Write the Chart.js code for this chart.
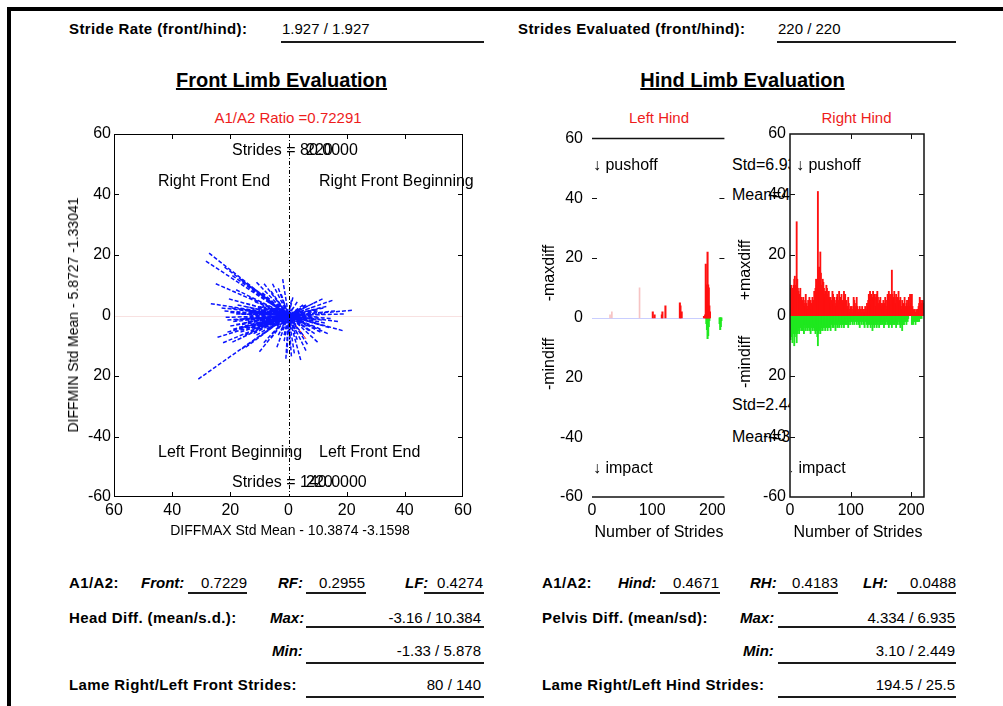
<!DOCTYPE html>
<html>
<head>
<meta charset="utf-8">
<title>Limb Evaluation</title>
<script src="https://cdn.jsdelivr.net/npm/chart.js@4.4.1/dist/chart.umd.min.js"></script>
<style>
  html, body { margin: 0; padding: 0; background: #fff; }
  #page { position: relative; width: 1003px; height: 706px; overflow: hidden; background: #fff;
          font-family: 'Liberation Sans', Arial, Helvetica, sans-serif; color: #000; }
  .t { position: absolute; white-space: nowrap; line-height: 1; }
  .lbl { font-size: 15px; font-weight: bold; letter-spacing: 0.4px; }
  .val { font-size: 15px; }
  .bi { font-size: 15px; font-weight: bold; font-style: italic; }
  .ttl { font-size: 20px; font-weight: bold; text-decoration: underline; text-decoration-thickness: 1.5px; }
  .red { color: #ee1c1c; font-size: 15px; }
  .p16 { font-size: 16px; }
  .p14 { font-size: 14px; }
  .ctr { transform: translateX(-50%); }
  .rot { transform: translate(-50%, -50%) rotate(-90deg); }
  .ul { position: absolute; height: 2px; background: #1a1a1a; }
  .bar { position: absolute; background: #000; }
  .clip { position: absolute; overflow: hidden; }
  canvas { position: absolute; }
</style>
</head>
<body>
<div id="page">
  <!-- page frame -->
  <div class="bar" style="left:7px;top:7px;width:996px;height:4px;"></div>
  <div class="bar" style="left:7px;top:7px;width:4px;height:699px;"></div>

  <!-- header row -->
  <div class="t lbl" style="left:69px;top:21px;">Stride Rate (front/hind):</div>
  <div class="t val" style="left:282px;top:21px;">1.927 / 1.927</div>
  <div class="ul" style="left:281px;top:41px;width:203px;"></div>
  <div class="t lbl" style="left:518px;top:21px;">Strides Evaluated (front/hind):</div>
  <div class="t val" style="left:778px;top:21px;">220 / 220</div>
  <div class="ul" style="left:777px;top:41px;width:179px;"></div>

  <div class="t ttl ctr" style="left:281.5px;top:69.5px;">Front Limb Evaluation</div>
  <div class="t ttl ctr" style="left:742.5px;top:69.5px;">Hind Limb Evaluation</div>

  <div class="t red ctr" style="left:288px;top:109.5px;">A1/A2 Ratio =0.72291</div>
  <div class="t red ctr" style="left:659px;top:109.5px;">Left Hind</div>
  <div class="t red ctr" style="left:856.5px;top:109.5px;">Right Hind</div>

  <!-- chart canvases -->
  <canvas id="front" width="420" height="430" style="left:60px;top:120px;width:420px;height:430px;"></canvas>
  <canvas id="leftHind" width="200" height="430" style="left:530px;top:120px;width:200px;height:430px;"></canvas>

  <!-- statistics printed beside the left hind plot, cut off by the right hind axes -->
  <div class="clip" style="left:731px;top:150px;width:59px;height:300px;">
    <div class="t p16" style="left:1px;top:7px;">Std=6.935</div>
    <div class="t p16" style="left:1px;top:37px;">Mean=4.334</div>
    <div class="t p16" style="left:1px;top:247px;">Std=2.449</div>
    <div class="t p16" style="left:1px;top:279px;">Mean=3.10</div>
  </div>

  <canvas id="rightHind" width="200" height="430" style="left:730px;top:120px;width:200px;height:430px;"></canvas>

  <!-- front plot annotations -->
  <div class="t p16" style="left:232px;top:142px;">Strides = 80.0000</div>
  <div class="t p16" style="left:306px;top:142px;">220</div>
  <div class="t p16" style="left:158px;top:173px;">Right Front End</div>
  <div class="t p16" style="left:319px;top:173px;">Right Front Beginning</div>
  <div class="t p16" style="left:158px;top:444px;">Left Front Beginning</div>
  <div class="t p16" style="left:319px;top:444px;">Left Front End</div>
  <div class="t p16" style="left:232px;top:474px;">Strides = 140.0000</div>
  <div class="t p16" style="left:306px;top:474px;">220</div>
  <div class="t p14 ctr" style="left:290px;top:523px;">DIFFMAX Std Mean - 10.3874 -3.1598</div>
  <div class="t p14 rot" style="left:73px;top:315px;">DIFFMIN Std Mean - 5.8727 -1.33041</div>

  <!-- hind plot annotations -->
  <div class="t p16" style="left:593px;top:157px;">↓ pushoff</div>
  <div class="t p16" style="left:593px;top:460px;">↓ impact</div>
  <div class="t p16" style="left:796px;top:157px;">↓ pushoff</div>
  <div class="clip" style="left:791px;top:455px;width:100px;height:26px;">
    <div class="t p16" style="left:-5px;top:5px;">↓ impact</div>
  </div>
  <div class="t p16 rot" style="left:549px;top:273px;">-maxdiff</div>
  <div class="t p16 rot" style="left:549px;top:364px;">-mindiff</div>
  <div class="t p16 rot" style="left:745px;top:270px;">+maxdiff</div>
  <div class="t p16 rot" style="left:745px;top:362px;">-mindiff</div>
  <div class="t p16 ctr" style="left:659px;top:524px;">Number of Strides</div>
  <div class="t p16 ctr" style="left:858px;top:524px;">Number of Strides</div>

  <!-- front summary table -->
  <div class="t lbl" style="left:69px;top:575px;">A1/A2:</div>
  <div class="t bi" style="left:141px;top:575px;">Front:</div>
  <div class="t val" style="right:756px;top:575px;">0.7229</div>
  <div class="ul" style="left:188px;top:592px;width:59px;"></div>
  <div class="t bi" style="left:278px;top:575px;">RF:</div>
  <div class="t val" style="right:638px;top:575px;">0.2955</div>
  <div class="ul" style="left:306px;top:592px;width:60px;"></div>
  <div class="t bi" style="left:405px;top:575px;">LF:</div>
  <div class="t val" style="right:520px;top:575px;">0.4274</div>
  <div class="ul" style="left:424px;top:592px;width:60px;"></div>

  <div class="t lbl" style="left:69px;top:609.5px;">Head Diff. (mean/s.d.):</div>
  <div class="t bi" style="left:270px;top:609.5px;">Max:</div>
  <div class="t val" style="right:522px;top:609.5px;">-3.16 / 10.384</div>
  <div class="ul" style="left:306px;top:626px;width:178px;"></div>
  <div class="t bi" style="left:272px;top:642.5px;">Min:</div>
  <div class="t val" style="right:522px;top:642.5px;">-1.33 / 5.878</div>
  <div class="ul" style="left:306px;top:662px;width:178px;"></div>
  <div class="t lbl" style="left:69px;top:676.5px;">Lame Right/Left Front Strides:</div>
  <div class="t val" style="right:522px;top:676.5px;">80 / 140</div>
  <div class="ul" style="left:306px;top:696px;width:178px;"></div>

  <!-- hind summary table -->
  <div class="t lbl" style="left:542px;top:575px;">A1/A2:</div>
  <div class="t bi" style="left:618px;top:575px;">Hind:</div>
  <div class="t val" style="right:284px;top:575px;">0.4671</div>
  <div class="ul" style="left:660px;top:592px;width:60px;"></div>
  <div class="t bi" style="left:750px;top:575px;">RH:</div>
  <div class="t val" style="right:165px;top:575px;">0.4183</div>
  <div class="ul" style="left:778px;top:592px;width:60px;"></div>
  <div class="t bi" style="left:863px;top:575px;">LH:</div>
  <div class="t val" style="right:47px;top:575px;">0.0488</div>
  <div class="ul" style="left:897px;top:592px;width:59px;"></div>

  <div class="t lbl" style="left:542px;top:609.5px;">Pelvis Diff. (mean/sd):</div>
  <div class="t bi" style="left:740px;top:609.5px;">Max:</div>
  <div class="t val" style="right:48px;top:609.5px;">4.334 / 6.935</div>
  <div class="ul" style="left:778px;top:626px;width:178px;"></div>
  <div class="t bi" style="left:743px;top:642.5px;">Min:</div>
  <div class="t val" style="right:48px;top:642.5px;">3.10 / 2.449</div>
  <div class="ul" style="left:778px;top:662px;width:178px;"></div>
  <div class="t lbl" style="left:542px;top:676.5px;">Lame Right/Left Hind Strides:</div>
  <div class="t val" style="right:48px;top:676.5px;">194.5 / 25.5</div>
  <div class="ul" style="left:778px;top:696px;width:178px;"></div>
</div>

<script>
// ---- axis ticks ----
const frontXTickValues = [-60, -40, -20, 0, 20, 40, 60];
const frontXTickLabels = ['60', '40', '20', '0', '20', '40', '60'];
const frontYTickValues = [-60, -40, -20, 0, 20, 40, 60];
const frontYTickLabels = ['-60', '-40', '20', '0', '20', '40', '60'];
const hindYTickValues = [-60, -40, -20, 0, 20, 40, 60];
const hindYTickLabels = ['-60', '-40', '20', '0', '20', '40', '60'];
const hindXTickValues = [0, 100, 200];
const hindXTickLabels = ['0', '100', '200'];

// ---- front limb: per-stride head difference vectors (max, min) ----
const frontMaxDiff = [
  -27.3, -28.4, -31.0, 21.8, 18.6, 15.1, 11.7, -26.7, -24.4, -25.0,
  -19.3, -8.4, -5.5, -0.9, 4.2, 6.0, 10.0, -10.0, -14.7, -19.3,
  -17.0, -21.6, -22.0, -16.0, -12.0, -13.5, -9.0, -2.5, 1.5, 3.0,
  6.0, 8.5, 13.0, 16.0, 9.0, 12.5, 14.0, 7.5, 5.0, 3.0,
  0.5, -1.5, -3.5, -6.0, -8.0, -11.0, -13.0, -15.5, -18.5, -16.5,
  -14.0, -12.0, -10.5, -9.0, -7.0, -5.5, -4.0, -3.0, -2.0, -1.0,
  1.0, 2.5, 4.0, 5.5, 7.0, 8.0, 10.0, 11.5, -20.0, -23.0,
  -17.5, -11.5, -7.5, -4.5, -6.5, -9.5, -12.5, -15.0, -17.5, -8.5,
  -4.0, 2.0, 6.5, 9.0, 11.0, -2.5, 0.0, 2.0, -5.0, -10.0,
  -13.5, 3.5, 6.0, -1.5, -6.0, -3.5, 0.5, -19.0, -21.0, -16.0,
  -22.5, 17.0, 19.0, 13.5, -0.5, 1.0, -2.0, -18.0, -20.5, -11.0,
  -14.5, -12.5, -9.5, -7.5, -6.0, -4.5, -3.0, 1.5, 3.0, 4.5,
  -16.0, -13.0, -10.0, -8.0, -5.0, 2.5, 7.5, 9.5, -1.5, -2.5,
  -18.0, -17.0, -16.0, -15.0, -14.0, -13.0, -12.0, -11.0, -10.0, -9.0,
  -8.0, -7.0, -6.0, -5.0, -4.0, -3.0, -2.0, -1.0, 0.5, 1.5,
  2.5, 3.5, 4.5, 5.5, 6.5, 7.5, 8.5, 9.5, 10.5, 11.5,
  12.0, -19.0, -18.0, -16.5, -14.5, -12.0, -10.5, -8.5, -7.0, -5.5,
  -3.5, -1.5, 1.0, 3.0, 5.0, 7.0, 9.0, 11.0, -20.0, -15.5,
  -13.0, -11.0, -9.5, -8.0, -6.5, -4.5, -2.5, 0.0, 2.0, 4.0,
  6.0, 8.0, 10.0, 12.5, 14.5, -21.0, -22.0, -19.5
];
const frontMinDiff = [
  20.6, 18.0, -21.0, 1.7, -5.0, 5.0, 5.5, 3.9, -7.2, 10.5,
  13.2, 10.5, 10.5, -14.3, -14.7, -11.6, -8.8, -12.0, -10.5, -8.8,
  -3.9, -0.6, 16.0, 11.5, 9.0, 6.0, 7.5, 7.0, 6.0, 4.5,
  3.5, 4.0, 3.0, 1.5, -1.5, -2.5, -4.0, -5.0, -6.5, -8.0,
  -10.0, -8.5, -6.5, -7.5, -5.5, -6.5, -5.0, -2.5, -1.5, 0.5,
  1.5, -1.0, 2.5, 0.5, -2.0, 2.0, -3.5, 3.5, -2.0, 1.5,
  -2.5, -1.0, -3.0, 1.0, -2.0, 1.5, -0.5, 1.0, 1.0, 2.5,
  3.5, 4.5, 5.0, 5.5, -4.0, -3.0, -3.5, -6.5, -8.0, -9.0,
  -10.5, -12.5, -9.5, -6.0, -4.5, -5.0, -6.0, -4.5, 0.0, -1.5,
  0.0, 2.0, -0.5, 4.0, 8.0, 9.0, 3.0, -4.5, -5.5, -11.0,
  -9.0, -2.0, 0.5, -6.0, -12.5, -13.5, 12.0, 8.5, 5.5, 11.0,
  -1.0, 1.0, -2.5, 0.5, -1.5, 2.5, -1.0, -2.0, 0.5, -1.5,
  -3.0, -4.0, 3.0, -3.5, 1.0, -3.0, -3.5, -2.5, -0.5, 0.5,
  -3.0, 2.0, -4.0, 3.0, -2.0, 2.5, -4.5, 1.0, -3.5, 3.0,
  -1.0, 2.5, -3.0, 1.5, -4.5, 2.0, -3.5, -1.0, -4.0, 2.5,
  -3.5, 0.5, -2.0, 2.5, -3.5, 0.5, -2.5, 2.0, -3.0, -1.5,
  2.5, -2.0, 0.5, -5.5, 4.0, -6.0, 5.0, -6.0, 4.5, -6.0,
  4.5, -6.5, 5.0, -6.0, 3.5, -5.0, 3.0, -5.5, -3.5, -1.0,
  -1.5, -2.5, 1.5, -4.0, 0.5, -1.5, 0.5, 1.0, -1.5, 1.5,
  -1.5, 0.0, 1.5, 0.5, -1.0, -1.5, 1.5, 2.5
];
// mean direction drawn in red
const frontMeanX = [0, 6.0];
const frontMeanY = [0, -7.7];

// ---- right hind: per-stride pelvis max / min differences (strides 1..220) ----
const rightHindMax = [
  9, 10, 8, 9, 7, 10, 12, 13, 10, 9,
  31, 12, 9, 8, 7, 6, 9, 5, 6, 4,
  5, 6, 4, 3, 5, 7, 4, 3, 2, 5,
  4, 6, 3, 5, 2, 4, 6, 3, 5, 8,
  6, 9, 12, 10, 7, 41, 15, 16, 12, 21,
  14, 10, 8, 12, 11, 9, 7, 8, 6, 10,
  9, 7, 5, 8, 6, 4, 6, 3, 5, 8,
  7, 4, 6, 5, 3, 4, 6, 7, 3, 5,
  8, 4, 6, 3, 7, 2, 5, 4, 8, 6,
  7, 4, 5, 3, 2, 6, 4, 1, 2, 3,
  2, 3, 1, 2, 6, 5, 3, 2, 4, 6,
  3, 2, 1, 2, 3, 1, 2, 1, 3, 2,
  1, 2, 1, 3, 2, 1, 4, 3, 5, 7,
  6, 8, 5, 7, 4, 6, 8, 5, 7, 6,
  3, 7, 5, 8, 6, 4, 3, 5, 6, 4,
  3, 4, 2, 5, 3, 4, 6, 3, 2, 5,
  7, 6, 8, 5, 7, 6, 4, 15, 7, 6,
  5, 8, 6, 4, 7, 5, 3, 6, 8, 5,
  4, 6, 3, 2, 5, 3, 4, 2, 6, 3,
  2, 4, 5, 3, 2, 6, 3, 7, 4, 2,
  7, 3, 1, 2, 1, 2, 1, 1, 2, 1,
  2, 3, 4, 6, 3, 5, 4, 3, 5, 4
];
const rightHindMin = [
  -8, -7, -6, -9, -5, -6, -10, -7, -6, -5,
  -9, -6, -5, -4, -6, -5, -4, -3, -5, -4,
  -5, -4, -6, -3, -4, -5, -3, -4, -5, -3,
  -4, -5, -3, -6, -4, -3, -5, -4, -3, -5,
  -4, -6, -5, -3, -7, -10, -6, -5, -4, -6,
  -5, -4, -3, -5, -4, -3, -4, -5, -3, -4,
  -3, -5, -4, -2, -4, -3, -5, -2, -3, -4,
  -3, -4, -2, -3, -5, -3, -2, -4, -3, -2,
  -4, -3, -2, -3, -4, -2, -3, -2, -4, -3,
  -2, -3, -1, -3, -2, -4, -2, -1, -3, -2,
  -1, -2, -3, -1, -2, -3, -2, -1, -2, -3,
  -2, -1, -3, -2, -4, -2, -1, -3, -2, -1,
  -3, -2, -4, -2, -1, -3, -2, -4, -3, -2,
  -3, -2, -4, -3, -2, -5, -3, -2, -4, -3,
  -2, -3, -4, -2, -3, -2, -4, -3, -2, -3,
  -2, -3, -1, -2, -4, -3, -2, -3, -1, -2,
  -3, -2, -4, -3, -2, -3, -2, -4, -3, -2,
  -3, -2, -3, -2, -4, -2, -3, -2, -1, -3,
  -2, -4, -3, -2, -5, -3, -2, -3, -2, -1,
  -2, -3, -1, -2, -1, 0, 0, 0, 0, 0,
  -3, -2, -3, -2, -1, -2, -3, -2, -1, -2,
  -2, -1, -2, -1, -1, 0, -1, 0, 0, 0
];

// ---- left hind: only a few strides differ from zero ----
const leftHindMaxStrides = [101, 104, 116, 117, 122, 146, 147, 149, 186, 188, 189, 190, 191, 192, 193, 194, 195, 196];
const leftHindMaxValues  = [2, 1, 1, 2, 4, 5, 4, 2, 0.5, 1, 18, 11, 10, 22, 11, 10, 4, 2];
const leftHindMinStrides = [190, 191, 192, 193, 194, 195, 212, 213, 214, 215];
const leftHindMinValues  = [-2, -4, -7, -6, -3, -1, -2, -4, -3, -1];
const leftHindFaintStrides = [30, 33, 79];
const leftHindFaintValues  = [1, 2, 10];
const leftHindBaselineEnd = 190;

const strideNumbers = Array.from({ length: rightHindMax.length }, (_, i) => i + 1);

// ---- helpers ----
const tickFont = { family: "'Liberation Sans', Arial, Helvetica, sans-serif", size: 16 };

function labelFrom(values, labels) {
  return (v) => {
    const i = values.indexOf(v);
    return i < 0 ? '' : labels[i];
  };
}

function yScale(width, padding, values, labels) {
  return {
    type: 'linear', position: 'left', min: -60, max: 60,
    ticks: { stepSize: 20, padding, color: '#000', font: tickFont, autoSkip: false,
             callback: labelFrom(values, labels) },
    grid: { display: false, drawTicks: false },
    border: { display: false },
    afterFit(s) { s.width = width; }
  };
}

function xScale(min, max, step, values, labels) {
  return {
    type: 'linear', position: 'bottom', min, max, offset: false,
    ticks: { stepSize: step, padding: 4, includeBounds: false, autoSkip: false, maxRotation: 0,
             color: '#000', font: tickFont, callback: labelFrom(values, labels) },
    grid: { display: false, drawTicks: false },
    border: { display: false },
    afterFit(s) { s.height = 53; }
  };
}

function baseOptions(padding, scales) {
  return {
    responsive: false, animation: false, devicePixelRatio: 1,
    layout: { padding },
    plugins: { legend: { display: false }, tooltip: { enabled: false } },
    scales
  };
}

function line(ctx, x1, y1, x2, y2) {
  ctx.beginPath(); ctx.moveTo(x1, y1); ctx.lineTo(x2, y2); ctx.stroke();
}

function inwardTicks(ctx, a, x, y, xs, ys, len, sides) {
  xs.forEach(v => {
    const px = Math.round(x.getPixelForValue(v)) + 0.5;
    if (sides.bottom) line(ctx, px, a.bottom, px, a.bottom - len);
    if (sides.top) line(ctx, px, a.top, px, a.top + len);
  });
  ys.forEach(v => {
    const py = Math.round(y.getPixelForValue(v)) + 0.5;
    if (sides.left) line(ctx, a.left, py, a.left + len, py);
    if (sides.right) line(ctx, a.right, py, a.right - len, py);
  });
}

// ---- front limb: star of stride vectors, each drawn from its tip back to the origin ----
const starPoints = [];
frontMaxDiff.forEach((dx, i) => {
  starPoints.push({ x: dx, y: frontMinDiff[i] }, { x: 0, y: 0 }, { x: 0, y: null });
});
const meanPoints = frontMeanX.map((v, i) => ({ x: v, y: frontMeanY[i] }));

const frontDecor = {
  id: 'frontDecor',
  beforeDatasetsDraw(chart) {
    const { ctx, chartArea: a, scales: { y } } = chart;
    ctx.save();
    ctx.strokeStyle = 'rgba(235,170,170,0.35)';
    ctx.lineWidth = 1;
    const y0 = Math.round(y.getPixelForValue(0)) + 0.5;
    line(ctx, a.left, y0, a.right, y0);
    ctx.restore();
  },
  afterDatasetsDraw(chart) {
    const { ctx, chartArea: a, scales: { x, y } } = chart;
    ctx.save();
    ctx.strokeStyle = '#000';
    ctx.lineWidth = 1;
    ctx.setLineDash([4, 2, 1, 2]);
    const x0 = Math.round(x.getPixelForValue(0)) + 0.5;
    line(ctx, x0, a.top, x0, a.bottom);
    ctx.setLineDash([]);
    ctx.strokeRect(a.left + 0.5, a.top + 0.5, a.width - 1, a.height - 1);
    inwardTicks(ctx, a, x, y, [-40, -20, 20, 40], [-40, -20, 20, 40], 5,
                { top: true, bottom: true, left: true, right: true });
    ctx.restore();
  }
};

new Chart(document.getElementById('front'), {
  type: 'scatter',
  data: {
    datasets: [
      { data: starPoints, showLine: true, spanGaps: false, borderColor: '#0a14ff', borderWidth: 1.5,
        borderDash: [4, 2], pointRadius: 0 },
      { data: meanPoints, showLine: true, borderColor: '#ff2020', borderWidth: 1, pointRadius: 0 }
    ]
  },
  options: baseOptions({ left: 0, top: 14, right: 17, bottom: 0 }, {
    x: xScale(-60, 60, 20, frontXTickValues, frontXTickLabels),
    y: yScale(54, 3, frontYTickValues, frontYTickLabels)
  }),
  plugins: [frontDecor]
});

// ---- left hind ----
const leftDecor = {
  id: 'leftDecor',
  beforeDatasetsDraw(chart) {
    const { ctx, scales: { x, y } } = chart;
    ctx.save();
    ctx.strokeStyle = '#c9ceff';
    ctx.lineWidth = 1;
    const y0 = Math.round(y.getPixelForValue(0)) + 0.5;
    line(ctx, x.getPixelForValue(0), y0, x.getPixelForValue(leftHindBaselineEnd), y0);
    ctx.restore();
  },
  afterDatasetsDraw(chart) {
    const { ctx, chartArea: a, scales: { x, y } } = chart;
    ctx.save();
    ctx.strokeStyle = '#111';
    ctx.lineWidth = 1.5;
    line(ctx, a.left, a.top, a.right, a.top);
    line(ctx, a.left, a.bottom, a.right, a.bottom);
    ctx.lineWidth = 1;
    inwardTicks(ctx, a, x, y, [], [20, 40], 5, { left: true, right: true });
    ctx.restore();
  }
};

const toPoints = (strides, values) => strides.map((s, i) => ({ x: s, y: values[i] }));

new Chart(document.getElementById('leftHind'), {
  type: 'bar',
  data: {
    datasets: [
      { data: toPoints(leftHindFaintStrides, leftHindFaintValues), backgroundColor: '#f6c4c4',
        grouped: false, barThickness: 1 },
      { data: toPoints(leftHindMaxStrides, leftHindMaxValues), backgroundColor: '#ff1010',
        grouped: false, barThickness: 1.4 },
      { data: toPoints(leftHindMinStrides, leftHindMinValues), backgroundColor: '#1fe81f',
        grouped: false, barThickness: 1.4 }
    ]
  },
  options: baseOptions({ left: 0, top: 14, right: 3, bottom: 0 }, {
    x: xScale(0, 220, 100, hindXTickValues, hindXTickLabels),
    y: yScale(62, 9, hindYTickValues, hindYTickLabels)
  }),
  plugins: [leftDecor]
});

// ---- right hind ----
const rightDecor = {
  id: 'rightDecor',
  afterDatasetsDraw(chart) {
    const { ctx, chartArea: a, scales: { x, y } } = chart;
    ctx.save();
    ctx.strokeStyle = '#111';
    ctx.lineWidth = 1.5;
    ctx.strokeRect(a.left, a.top, a.width, a.height);
    ctx.lineWidth = 1;
    inwardTicks(ctx, a, x, y, [100, 200], [-40, -20, 20, 40], 5,
                { top: true, bottom: true, left: true, right: true });
    ctx.restore();
  }
};

new Chart(document.getElementById('rightHind'), {
  type: 'bar',
  data: {
    labels: strideNumbers,
    datasets: [
      { data: rightHindMax, backgroundColor: '#ff1010', grouped: false, barThickness: 1.2 },
      { data: rightHindMin, backgroundColor: '#1fe81f', grouped: false, barThickness: 1.2 }
    ]
  },
  options: baseOptions({ left: 0, top: 14, right: 6, bottom: 0 }, {
    x: xScale(0, 221, 100, hindXTickValues, hindXTickLabels),
    y: yScale(60, 4, hindYTickValues, hindYTickLabels)
  }),
  plugins: [rightDecor]
});
</script>
</body>
</html>
